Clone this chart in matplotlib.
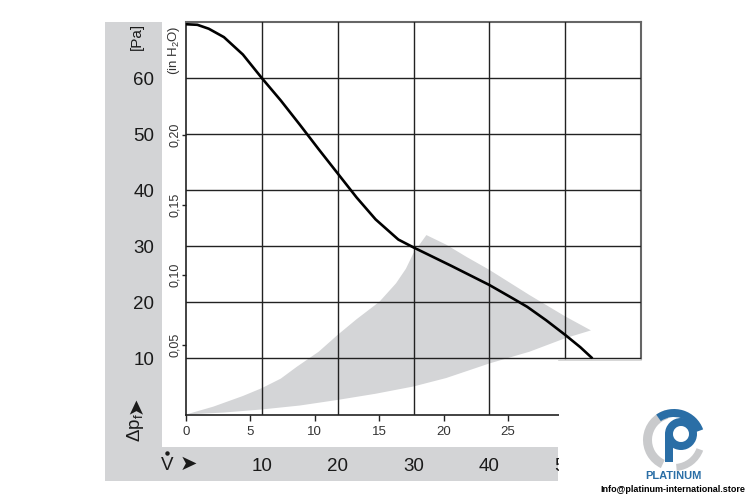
import matplotlib
matplotlib.use("Agg")
import matplotlib.pyplot as plt
from matplotlib.patches import Rectangle, Wedge

plt.rcParams['font.family'] = ['Liberation Sans', 'DejaVu Sans']

# fan curve: flow in m3/h, pressure in Pa
flow = [0, 1.5, 3, 5, 7.5, 10, 12.5, 15, 17.5, 20, 22.5, 25, 26.5, 28, 30, 35, 40, 43.1, 45, 47.5, 50, 52, 53.6]
dp = [69.6, 69.5, 68.8, 67.3, 64.2, 60, 56.0, 51.7, 47.3, 43.0, 38.7, 34.8, 33.0, 31.2, 29.8, 26.5, 23.1, 20.7, 19.2, 16.8, 14.2, 12.0, 10.0]

# shaded working area (m3/h, Pa), walked round the outline
area_flow = [0, 3.6, 7.5, 10, 12.5, 14.6, 17.5, 20, 22.5, 25.5, 27.7, 29, 30, 31.7,
             34.3, 37, 40, 45.3, 50, 53.4,
             50, 45.3, 40, 34.3, 30, 25, 20, 15, 10, 5, 0]
area_dp = [0, 1.4, 3.3, 4.7, 6.4, 8.5, 11.2, 14.2, 17.0, 20.1, 23.4, 26.0, 28.8, 32.0,
           30.3, 28.1, 25.8, 21.3, 17.5, 15.0,
           13.6, 11.2, 9.1, 6.5, 5.0, 3.7, 2.6, 1.6, 0.9, 0.35, 0]

pa_ticks = [10, 20, 30, 40, 50, 60]
flow_ticks = [10, 20, 30, 40, 50]
cfm_ticks = [0, 5, 10, 15, 20, 25, 30]
inh2o_ticks = [0.05, 0.10, 0.15, 0.20]

band = '#d3d4d6'
fig = plt.figure(figsize=(7.5, 5), dpi=100)

# background canvas in pixel units
bg = fig.add_axes([0, 0, 1, 1], zorder=0)
bg.set_xlim(0, 750)
bg.set_ylim(500, 0)
bg.axis('off')
bg.add_patch(Rectangle((105, 22), 57, 459, color=band, lw=0))
bg.add_patch(Rectangle((105, 447), 453, 34, color=band, lw=0))
bg.text(137, 36, '[Pa]', rotation=90, ha='center', va='center', fontsize=11, color='#1a1a1a')
bg.text(174, 50, r'(in H$\mathregular{_2}$O)', rotation=90, ha='center', va='center', fontsize=9.5, color='#333')
bg.text(136, 428, r'Δp$\mathregular{_f}$', rotation=90, ha='center', va='center', fontsize=13.5, color='#1a1a1a')
bg.text(136, 405, '➤', rotation=90, ha='center', va='center', fontsize=15, color='#1a1a1a', family='DejaVu Sans')
bg.text(167, 465, 'V', ha='center', va='center', fontsize=13.5, color='#1a1a1a')
bg.plot([167], [453], marker='o', ms=2.2, color='#1a1a1a', lw=0)
bg.text(188, 464, '➤', ha='center', va='center', fontsize=15, color='#1a1a1a', family='DejaVu Sans')

ax = fig.add_axes([186 / 750, 85.5 / 500, 455 / 750, 392.5 / 500], zorder=1)
ax.fill(area_flow, area_dp, color='#d4d5d7', lw=0, zorder=1)
ax.plot(flow, dp, color='black', lw=1.9, zorder=3, solid_capstyle='butt')
ax.set_xlim(0, 60)
ax.set_ylim(0, 70)
ax.set_xticks(flow_ticks)
ax.set_xticklabels([str(v) for v in flow_ticks], fontsize=13.5, color='#1a1a1a')
ax.set_yticks(pa_ticks)
ax.set_yticklabels([str(v) for v in pa_ticks], fontsize=13.5, color='#1a1a1a')
ax.tick_params(axis='x', length=0, pad=31)
ax.tick_params(axis='y', length=0, pad=23)
ax.grid(True, color='#222', lw=1.0, zorder=2)
ax.set_axisbelow(False)
for s in ['left', 'bottom']:
    ax.spines[s].set_color('#222')
    ax.spines[s].set_linewidth(1.2)
for s in ['top', 'right']:
    ax.spines[s].set_color('#666')
    ax.spines[s].set_linewidth(1.5)

cfm = ax.secondary_xaxis('bottom', functions=(lambda m: m / 1.699, lambda c: c * 1.699))
cfm.set_xticks(cfm_ticks)
cfm.set_xticklabels([str(v) for v in cfm_ticks], fontsize=9.5, color='#333')
cfm.tick_params(length=4.5, width=1, color='#222', pad=4)
cfm.spines['bottom'].set_visible(False)

wg = ax.secondary_yaxis('left', functions=(lambda p: p / 249.09, lambda w: w * 249.09))
wg.set_yticks(inh2o_ticks)
wg.set_yticklabels(['0,05', '0,10', '0,15', '0,20'], fontsize=9, color='#333', rotation=90, va='center')
wg.tick_params(length=3, width=1, color='#222', pad=0.5)
wg.minorticks_off()
wg.spines['left'].set_visible(False)

# white block in the lower right with the logo
top = fig.add_axes([0, 0, 1, 1], zorder=3)
top.set_xlim(0, 750)
top.set_ylim(500, 0)
top.axis('off')
top.patch.set_alpha(0)
top.add_patch(Rectangle((559, 360), 191, 140, color='white', lw=0))
top.plot([559, 641], [359.5, 359.5], color='#cfcfcf', lw=1.2)
blue = '#2a6ea6'
top.add_patch(Wedge((674, 440), 31, 115, 255, width=9, color='#c9cacc', lw=0))
top.add_patch(Wedge((674, 440), 31, 20, 85, width=7, color='#c9cacc', lw=0))
top.add_patch(Wedge((674, 440), 31, 235, 340, width=8, color=blue, lw=0))
top.add_patch(Wedge((681, 434), 16, 0, 360, width=8, color=blue, lw=0))
top.add_patch(Rectangle((665, 434), 8, 28, color=blue, lw=0))
top.text(673, 476, 'PLATINUM', ha='center', va='center', fontsize=8, color=blue, fontweight='bold')
top.text(673, 490, 'Info@platinum-international.store', ha='center', va='center', fontsize=6.5,
         color='black', fontweight='bold')

fig.savefig('out.png', dpi=100)
